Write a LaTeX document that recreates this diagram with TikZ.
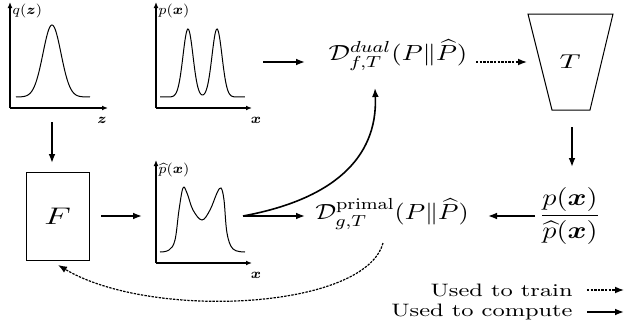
\documentclass[tikz,border=0pt]{standalone}
\usepackage{amsmath,bm,graphicx}
\usetikzlibrary{arrows.meta}
\newcommand{\stx}[2][1.45]{\scalebox{#1}[1]{#2}}
\begin{document}
\begin{tikzpicture}[x=0.5pt,y=-0.5pt,
  conn/.style={line width=0.8pt,-{Latex[length=4.5pt,width=3.4pt]}},
  train/.style={line width=0.6pt,dash pattern=on 1.2pt off 0.6pt,-{Latex[length=4.5pt,width=3.4pt]}},
  axis/.style={line width=0.6pt,-{Latex[length=3pt,width=2.4pt]}},
  curve/.style={line width=0.5pt},
  lbl/.style={inner sep=0pt,font=\scriptsize},
  formula/.style={inner sep=0pt},
  box/.style={draw,line width=0.5pt,minimum width=31.5pt,minimum height=44pt,inner sep=0pt}]
\useasboundingbox (0,0) rectangle (628,332);
% plot q(z)
\draw[axis] (10,108) -- (10,2);
\draw[axis] (10,108) -- (108,108);
\draw[curve] plot[domain=16:90,samples=90] (\x,{97-72*exp(-((\x-52)/9)^2/2)});
\node[lbl,anchor=west] (qlab) at (12,11) {$q(\bm z)$};
\node[lbl] (zlab) at (102,120) {$\bm z$};
% plot p(x)
\draw[axis] (156,108) -- (156,2);
\draw[axis] (156,108) -- (252,108);
\draw[curve] plot[domain=160:245,samples=120] (\x,{97-68*(exp(-((\x-188)/5)^2/2)+exp(-((\x-217)/5)^2/2))});
\node[lbl,anchor=west] (plab) at (158,11) {$p(\bm x)$};
\node[lbl] (xlab1) at (256,120) {$\bm x$};
% plot hat p(x)
\draw[axis] (156,263) -- (156,160);
\draw[axis] (156,263) -- (252,263);
\draw[curve] plot[smooth,tension=0.6] coordinates {(160,252) (169,250) (175,240) (179,210) (183,188) (187,193) (193,210) (202,220) (210,210) (217,193) (221,188) (224,200) (227,233) (233,249) (245,252)};
\node[lbl,anchor=west] (phlab) at (158,170) {$\widehat{p}(\bm x)$};
\node[lbl] (xlab2) at (256,275) {$\bm x$};
% connector end points at the plots
\coordinate (qout) at (52,122);
\coordinate (pout) at (263,62);
\coordinate (phin) at (142,216);
\coordinate (phout) at (243,216);
% main nodes
\node[box] (F) at (57.5,216) {\stx{\large $F$}};
\node[formula] (dual) at (398,55) {\stx[1.22]{\fontsize{11}{13}\selectfont$\mathcal{D}^{dual}_{f,T}(P\|\widehat{P})$}};
\node[formula] (primal) at (392,214) {\stx[1.19]{\fontsize{11}{13}\selectfont$\mathcal{D}^{\mathrm{primal}}_{g,T}(P\|\widehat{P})$}};
\node[formula] (frac) at (570,216) {\stx[1.2]{\fontsize{12}{14}\selectfont$\dfrac{p(\bm x)}{\widehat{p}(\bm x)}$}};
\coordinate (T1) at (528,14);
\coordinate (T2) at (613,14);
\coordinate (T3) at (590,110);
\coordinate (T4) at (552,110);
\draw[line width=0.5pt] (T1) -- (T2) -- (T3) -- (T4) -- cycle;
\node (T) at (570,62) {\stx{$T$}};
\coordinate (Tin) at (527,62);
\coordinate (Tout) at (572,127);
\coordinate (dualin) at (305,62);
\coordinate (dualout) at (476,62);
\coordinate (dualbot) at (375,88);
\coordinate (primin) at (305,216);
\coordinate (primout) at (383,243);
\coordinate (fracin) at (572,167);
\coordinate (fracout) at (535,216);
\coordinate (primE) at (488,216);
\coordinate (Fin) at (52,163);
\coordinate (Fout) at (101,216);
\coordinate (Fbot) at (58,265);
% connectors
\draw[conn] (qout) -- (Fin);
\draw[conn] (Fout) -- (phin);
\draw[conn] (pout) -- (dualin);
\draw[train] (dualout) -- (Tin);
\draw[conn] (Tout) -- (fracin);
\draw[conn] (fracout) -- (primE);
\draw[conn] (phout) -- (primin);
\draw[conn] (phout) .. controls (330,200) and (378,160) .. (dualbot);
\draw[train] (primout) .. controls (365,310) and (150,320) .. (Fbot);
% legend
\node[formula,anchor=east] (ltrain) at (573,290) {\stx[1.32]{\small Used to train}};
\node[formula,anchor=east] (lcomp) at (573,312) {\stx[1.32]{\small Used to compute}};
\coordinate (ltrainE) at (624,290);
\coordinate (lcompE) at (624,312);
\coordinate (ltrainS) at (587,290);
\coordinate (lcompS) at (587,312);
\draw[train] (ltrainS) -- (ltrainE);
\draw[conn] (lcompS) -- (lcompE);
\end{tikzpicture}
\end{document}
